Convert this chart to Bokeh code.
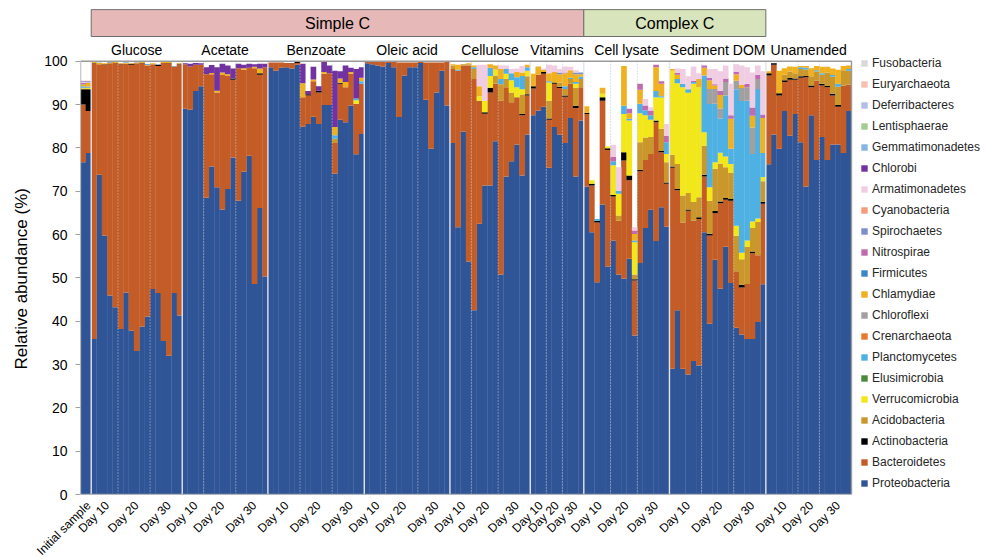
import math
from bokeh.plotting import figure
from bokeh.models import (ColumnDataSource, Range1d, FixedTicker, Legend, LegendItem,
                          LinearAxis, Title)
from bokeh.core.properties import value
from bokeh.embed import file_html
from bokeh.resources import INLINE

# ---------------- structure ----------------
groups = ["Initial", "Glucose", "Acetate", "Benzoate", "Oleic acid", "Cellulose",
          "Vitamins", "Cell lysate", "Sediment DOM", "Unamended"]
day_counts = {
    "Initial": [2],
    "Glucose": [5, 6, 6],
    "Acetate": [4, 6, 6],
    "Benzoate": [6, 6, 6],
    "Oleic acid": [4, 6, 6],
    "Cellulose": [4, 5, 6],
    "Vitamins": [3, 3, 4],
    "Cell lysate": [5, 5, 6],
    "Sediment DOM": [6, 6, 6],
    "Unamended": [6, 4, 6],
}
initial_label = "Initial sample"
day_labels = ["Day 10", "Day 20", "Day 30"]
carbon_classes = [("Simple C", "Glucose", "Vitamins", "#E6B8B8"),
                  ("Complex C", "Cell lysate", "Sediment DOM", "#D8E4BC")]

phyla = ["Proteobacteria", "Bacteroidetes", "Actinobacteria", "Acidobacteria",
         "Verrucomicrobia", "Elusimicrobia", "Planctomycetes", "Crenarchaeota",
         "Chloroflexi", "Chlamydiae", "Firmicutes", "Nitrospirae", "Spirochaetes",
         "Cyanobacteria", "Armatimonadetes", "Chlorobi", "Gemmatimonadetes",
         "Lentisphaerae", "Deferribacteres", "Euryarchaeota", "Fusobacteria"]
colors = ["#2F5597", "#C35C26", "#000000", "#C9972C", "#F2E71B", "#4A8A3A",
          "#4FB0E3", "#E87A2E", "#A0A0A0", "#F0B121", "#3A86C8", "#C06AB0",
          "#7C8FCB", "#F59B7A", "#F1CDE3", "#7232A0", "#85B5E0", "#A3CC91",
          "#B4BEE4", "#F7C0B0", "#D9D9D9"]

# ---------------- data (relative abundance, % per sample) ----------------
proteobacteria = {
    "Initial": [76.7, 78.8],
    "Glucose": [35.9, 73.8, 59.8, 45.9, 43.2, 38.2, 46.6, 37.8, 33.1, 38.8, 41.1, 47.4, 46.5, 35.4, 32.0, 46.5, 41.3],
    "Acetate": [89.0, 88.8, 93.1, 94.2, 68.5, 75.7, 70.9, 65.8, 70.5, 77.8, 67.8, 74.5, 78.2, 48.6, 66.1, 50.3],
    "Benzoate": [98.6, 97.8, 98.5, 98.6, 98.3, 99.2, 84.9, 85.5, 87.2, 85.5, 89.9, 89.9, 74.0, 86.5, 85.9, 89.8, 78.5, 83.2],
    "Oleic acid": [99.5, 99.3, 99.0, 98.8, 99.6, 98.6, 87.1, 96.7, 98.6, 98.6, 99.6, 91.1, 79.8, 92.8, 97.8, 89.8],
    "Cellulose": [81.1, 61.7, 83.8, 53.8, 42.5, 62.5, 71.3, 71.3, 81.5, 50.8, 73.4, 76.9, 80.8, 73.6, 83.1],
    "Vitamins": [87.5, 88.6, 89.5, 75.4, 84.8, 83.0, 81.1, 86.9, 73.4, 86.3],
    "Cell lysate": [71.1, 60.5, 49.0, 66.9, 52.6, 58.6, 50.8, 49.8, 54.4, 36.7, 53.4, 61.5, 65.7, 58.5, 66.3, 61.8],
    "Sediment DOM": [29.0, 42.5, 29.0, 27.7, 30.8, 29.8, 60.5, 39.4, 54.2, 47.5, 57.2, 48.8, 38.5, 36.9, 35.9, 35.9, 39.8, 48.5],
    "Unamended": [76.2, 83.1, 79.8, 88.5, 82.8, 87.8, 81.3, 71.1, 87.5, 77.2, 82.5, 77.2, 80.8, 80.8, 78.8, 88.5],
}
bacteroidetes = {
    "Initial": [13.3, 9.7],
    "Glucose": [63.6, 25.5, 39.4, 53.6, 56.4, 61.1, 52.8, 61.4, 66.4, 60.7, 57.9, 51.9, 52.4, 64.2, 67.5, 52.2, 58.0],
    "Acetate": [10.3, 10.0, 6.1, 5.0, 28.5, 21.3, 21.9, 31.0, 26.1, 17.9, 30.6, 23.5, 20.3, 49.8, 30.8, 48.3],
    "Benzoate": [1.1, 1.9, 1.2, 1.0, 1.2, 0.4, 6.8, 6.6, 8.2, 7.3, 7.2, 7.3, 7.1, 8.3, 8.1, 7.3, 11.7, 11.6],
    "Oleic acid": [0.3, 0.5, 0.8, 1.0, 0.2, 1.2, 12.6, 3.0, 1.1, 1.1, 0.2, 8.6, 19.9, 6.9, 1.9, 10.0],
    "Cellulose": [17.1, 36.1, 15.2, 45.2, 53.4, 28.4, 16.6, 21.5, 13.3, 40.1, 20.6, 13.6, 10.9, 13.9, 9.0],
    "Vitamins": [6.2, 8.3, 7.6, 11.1, 10.0, 10.8, 10.7, 7.9, 15.8, 7.7],
    "Cell lysate": [16.7, 10.8, 13.8, 24.0, 26.9, 10.2, 12.4, 27.3, 18.1, 12.7, 21.2, 15.7, 12.9, 27.4, 12.7, 9.9],
    "Sediment DOM": [46.4, 27.7, 33.8, 37.8, 32.4, 33.8, 12.9, 20.4, 10.7, 19.7, 10.8, 19.0, 13.0, 10.9, 12.7, 19.8, 15.4, 18.6],
    "Unamended": [20.5, 16.1, 12.3, 6.7, 12.9, 7.9, 14.9, 25.2, 6.5, 18.3, 11.9, 16.8, 11.3, 8.7, 15.6, 6.1],
}
actinobacteria = {
    "Initial": [3.5, 5.0],
    "Glucose": [0.1, 0.0, 0.1, 0.0, 0.0, 0.1, 0.0, 0.2, 0.0, 0.1, 0.0, 0.0, 0.2, 0.0, 0.1, 0.0, 0.1],
    "Acetate": [0.0, 0.0, 0.0, 0.0, 0.0, 0.0, 0.0, 0.0, 0.0, 0.3, 0.0, 0.0, 0.0, 0.0, 0.3, 0.0],
    "Benzoate": [0.0, 0.0, 0.0, 0.0, 0.1, 0.2, 0.0, 0.3, 0.0, 0.4, 0.0, 0.0, 0.0, 0.2, 0.0, 0.0, 0.0, 0.0],
    "Cellulose": [0.0, 0.0, 0.0, 0.0, 0.0, 0.0, 0.3, 1.1, 0.0, 0.0, 0.0, 0.0, 0.0, 0.3, 0.3],
    "Vitamins": [0.5, 0.0, 0.4, 0.3, 0.3, 0.3, 0.3, 0.0, 0.5, 0.0],
    "Cell lysate": [0.3, 0.4, 0.4, 0.8, 0.4, 0.3, 0.0, 1.9, 1.1, 0.3, 0.3, 0.0, 0.0, 0.4, 0.3, 0.3],
    "Sediment DOM": [0.3, 0.3, 0.0, 0.3, 0.0, 0.4, 0.4, 0.4, 0.5, 0.4, 0.4, 0.4, 0.0, 0.6, 0.0, 0.4, 0.0, 0.4],
    "Unamended": [0.5, 0.3, 0.5, 0.4, 0.4, 0.3, 0.3, 0.3, 0.4, 0.0, 0.4, 0.3, 0.4, 0.4, 0.0, 0.0],
}
acidobacteria = {
    "Initial": [0.2, 0.1],
    "Benzoate": [0.0, 0.0, 0.0, 0.0, 0.0, 0.0, 0.0, 0.0, 0.0, 0.0, 0.0, 0.0, 1.0, 0.0, 0.0, 0.0, 0.0, 0.0],
    "Cellulose": [0.8, 0.0, 0.3, 0.3, 2.3, 0.0, 0.0, 0.0, 1.9, 3.8, 1.9, 2.3, 0.0, 4.5, 4.1],
    "Vitamins": [0.0, 0.0, 0.0, 4.1, 0.0, 1.0, 1.5, 1.1, 4.2, 1.9],
    "Cell lysate": [0.0, 0.0, 0.0, 0.0, 0.0, 0.0, 1.2, 0.0, 0.0, 1.1, 6.4, 5.2, 3.9, 0.0, 5.1, 4.7],
    "Sediment DOM": [2.7, 5.8, 6.2, 3.8, 4.3, 4.6, 6.7, 7.6, 9.8, 8.8, 7.1, 6.0, 8.2, 5.9, 8.5, 5.4, 7.7, 4.8],
    "Unamended": [0.0, 0.0, 0.0, 1.3, 1.5, 1.2, 1.7, 1.5, 2.1, 2.1, 2.1, 3.1, 3.9, 4.2, 3.5, 3.2],
}
verrucomicrobia = {
    "Initial": [0.1, 0.2],
    "Benzoate": [0.0, 0.0, 0.0, 0.0, 0.0, 0.0, 0.0, 0.0, 0.0, 0.0, 0.0, 0.0, 0.0, 0.0, 0.0, 0.0, 0.8, 0.0],
    "Cellulose": [0.0, 0.0, 0.0, 0.0, 0.0, 1.0, 2.6, 2.7, 1.3, 0.0, 1.2, 2.8, 2.3, 1.2, 1.3],
    "Vitamins": [0.0, 0.0, 0.0, 4.2, 0.0, 0.0, 0.0, 0.0, 0.9, 0.0],
    "Cell lysate": [0.0, 0.8, 0.0, 0.8, 0.4, 6.9, 5.0, 8.8, 12.7, 7.4, 6.7, 5.1, 4.0, 5.4, 7.2, 1.9],
    "Sediment DOM": [19.4, 18.6, 25.0, 23.1, 27.3, 25.4, 3.1, 3.1, 1.5, 2.5, 2.5, 2.1, 2.3, 1.5, 1.5, 1.5, 0.8, 1.0],
}
elusimicrobia = {"Initial": [0.05, 0.0]}
planctomycetes = {
    "Initial": [0.3, 0.2],
    "Benzoate": [0.0, 0.0, 0.0, 0.0, 0.0, 0.0, 0.0, 0.0, 0.0, 0.0, 0.0, 0.0, 0.8, 0.0, 0.0, 0.0, 0.4, 0.6],
    "Cellulose": [0.0, 0.2, 0.0, 0.0, 0.4, 0.0, 0.0, 1.9, 0.0, 1.2, 1.1, 1.6, 2.3, 3.1, 0.8],
    "Vitamins": [0.0, 0.0, 0.0, 0.3, 0.0, 0.0, 0.6, 0.3, 0.4, 0.5],
    "Cell lysate": [0.0, 0.0, 0.4, 0.0, 0.0, 0.9, 0.7, 1.9, 0.4, 0.4, 2.2, 1.1, 1.0, 1.4, 0.3, 2.7],
    "Sediment DOM": [0.0, 1.0, 0.8, 0.8, 0.4, 0.0, 13.1, 19.2, 13.5, 7.9, 14.1, 3.5, 31.5, 35.0, 32.3, 15.6, 29.9, 5.5],
    "Unamended": [0.0, 0.0, 0.0, 0.0, 0.0, 0.0, 0.4, 0.4, 0.0, 0.3, 0.3, 0.0, 0.4, 0.7, 0.0, 0.4],
}
crenarchaeota = {"Initial": [0.05, 0.05]}
chloroflexi = {
    "Initial": [0.1, 0.1],
    "Sediment DOM": [0.0, 0.0, 0.0, 0.0, 0.0, 0.0, 0.0, 3.5, 3.4, 2.3, 3.1, 0.0, 2.0, 3.0, 3.1, 6.1, 2.3, 0.0],
}
chlamydiae = {
    "Initial": [0.4, 0.8],
    "Glucose": [0.2, 0.3, 0.2, 0.2, 0.2, 0.1, 0.2, 0.1, 0.2, 0.2, 0.1, 0.2, 0.1, 0.2, 0.2, 0.1, 0.2],
    "Acetate": [0.0, 0.0, 0.0, 0.0, 0.0, 0.3, 0.4, 0.6, 0.4, 0.0, 0.0, 0.4, 0.0, 0.3, 1.1, 0.0],
    "Benzoate": [0.0, 0.0, 0.0, 0.0, 0.0, 0.0, 3.2, 0.0, 0.4, 0.0, 0.4, 0.0, 1.9, 1.0, 1.2, 0.4, 0.0, 0.8],
    "Cellulose": [0.3, 1.2, 0.0, 0.2, 0.4, 2.3, 0.0, 0.8, 1.0, 2.3, 0.0, 0.0, 1.2, 0.8, 0.6],
    "Vitamins": [2.9, 1.9, 0.5, 1.8, 2.4, 1.9, 3.0, 1.7, 1.8, 0.6],
    "Cell lysate": [1.5, 0.0, 0.0, 1.4, 0.0, 0.0, 0.0, 9.2, 1.3, 1.5, 3.2, 0.0, 0.0, 5.5, 2.9, 0.0],
    "Sediment DOM": [0.4, 1.0, 0.0, 0.0, 0.0, 1.9, 1.8, 2.0, 0.8, 3.1, 0.0, 6.9, 1.5, 0.7, 0.0, 2.7, 0.0, 8.1],
    "Unamended": [0.5, 0.0, 5.2, 1.5, 1.2, 1.5, 0.3, 0.4, 1.9, 1.0, 1.5, 1.3, 1.5, 3.2, 1.0, 0.8],
}
firmicutes = {
    "Initial": [0.05, 0.05],
    "Glucose": [0.1, 0.0, 0.0, 0.1, 0.0, 0.0, 0.1, 0.0, 0.0, 0.0, 0.2, 0.0, 0.1, 0.0, 0.0, 0.1, 0.0],
}
nitrospirae = {
    "Initial": [0.2, 0.1],
    "Vitamins": [0.0, 0.0, 0.0, 0.0, 0.0, 0.0, 0.2, 0.0, 0.0, 0.0],
    "Cell lysate": [0.0, 0.0, 0.0, 0.0, 0.0, 1.0, 0.0, 0.0, 1.0, 0.8, 1.4, 1.2, 1.1, 0.6, 0.6, 1.5],
    "Sediment DOM": [0.0, 0.4, 0.0, 0.0, 0.3, 0.0, 0.5, 0.6, 0.3, 1.0, 0.8, 0.8, 0.5, 0.0, 0.8, 1.9, 1.0, 0.8],
}
spirochaetes = {
    "Initial": [0.05, 0.05],
    "Vitamins": [0.0, 0.0, 0.0, 0.0, 0.0, 0.4, 0.0, 0.0, 0.4, 0.4],
}
cyanobacteria = {"Initial": [0.05, 0.0]}
armatimonadetes = {
    "Initial": [0.2, 0.1],
    "Cellulose": [0.0, 0.0, 0.0, 0.0, 0.0, 5.0, 8.4, 0.0, 0.0, 0.8, 0.8, 1.0, 0.8, 1.5, 0.0],
    "Vitamins": [0.0, 0.0, 0.3, 2.0, 1.5, 0.8, 1.4, 0.8, 0.5, 0.0],
    "Cell lysate": [0.0, 0.0, 0.0, 0.0, 0.0, 2.8, 5.4, 0.0, 0.0, 0.8, 0.0, 1.5, 0.8, 0.0, 0.0, 2.7],
    "Sediment DOM": [0.0, 1.0, 3.4, 3.0, 3.3, 1.3, 0.0, 2.0, 3.5, 4.5, 3.0, 7.3, 1.8, 4.5, 3.8, 8.1, 2.1, 10.0],
}
chlorobi = {
    "Initial": [0.1, 0.1],
    "Acetate": [0.2, 0.6, 0.4, 0.3, 1.6, 1.8, 5.4, 2.0, 2.0, 2.3, 1.0, 0.8, 0.9, 0.6, 1.1, 0.8],
    "Benzoate": [0.0, 0.0, 0.0, 0.0, 0.0, 0.0, 4.5, 0.7, 2.9, 1.0, 2.3, 1.8, 13.0, 1.7, 3.8, 1.0, 6.8, 2.4],
}
gemmatimonadetes = {
    "Initial": [0.05, 0.05],
    "Glucose": [0.0, 0.1, 0.0, 0.0, 0.0, 0.0, 0.0, 0.0, 0.1, 0.0, 0.0, 0.0, 0.0, 0.0, 0.0, 0.0, 0.0],
}
lentisphaerae = {"Initial": [0.0, 0.05]}
deferribacteres = {"Initial": [0.05, 0.0]}
euryarchaeota = {"Initial": [0.05, 0.05]}
fusobacteria = {"Initial": [0.05, 0.05]}

phylum_data = [proteobacteria, bacteroidetes, actinobacteria, acidobacteria,
               verrucomicrobia, elusimicrobia, planctomycetes, crenarchaeota,
               chloroflexi, chlamydiae, firmicutes, nitrospirae, spirochaetes,
               cyanobacteria, armatimonadetes, chlorobi, gemmatimonadetes,
               lentisphaerae, deferribacteres, euryarchaeota, fusobacteria]

# ---------------- build table ----------------
sizes = {g: sum(day_counts[g]) for g in groups}
n_bars = sum(sizes.values())


def series(d):
    out = []
    for g in groups:
        n = sizes[g]
        vals = [float(v) for v in d.get(g, [])][:n]
        vals += [0.0] * (n - len(vals))
        out += vals
    return out


table = {"x": [i + 0.5 for i in range(n_bars)]}
for name, d in zip(phyla, phylum_data):
    table[name] = series(d)
src = ColumnDataSource(table)

group_start = {}
pos = 0
tick_x, tick_text, day_bounds = [], [], []
for g in groups:
    group_start[g] = pos
    cum = pos
    for k, c in enumerate(day_counts[g]):
        tick_x.append(cum + c / 2.0)
        tick_text.append(initial_label if g == "Initial" else day_labels[k])
        cum += c
        if k < len(day_counts[g]) - 1:
            day_bounds.append(cum)
    pos += sizes[g]
group_end = {g: group_start[g] + sizes[g] for g in groups}
treat_bounds = [group_start[g] for g in groups[1:]]

# ---------------- figure ----------------
PX_Y = 4.333          # pixels per percent
FRAME_H = 494
FRAME_W = 904
LEFT = 80
BAR_PX = 771.0 / n_bars
y_end = FRAME_H / PX_Y
x_end = FRAME_W / BAR_PX

p = figure(frame_width=FRAME_W, frame_height=FRAME_H, output_backend="svg", toolbar_location=None,
           x_range=Range1d(0, x_end), y_range=Range1d(0, y_end),
           x_axis_location=None, y_axis_location="left",
           min_border_left=LEFT, min_border_right=0, min_border_top=0, min_border_bottom=0)
p.outline_line_color = None
p.grid.visible = False
p.background_fill_color = "white"

ax = p.yaxis[0]
ax.ticker = FixedTicker(ticks=list(range(0, 101, 10)))
ax.axis_line_color = None
ax.major_tick_line_color = "#A0A0A0"
ax.major_tick_out = 5
ax.major_tick_in = 0
ax.minor_tick_line_color = None
ax.major_label_text_font = "Liberation Sans"
ax.major_label_text_font_size = "14px"
ax.major_label_text_color = "#000000"
ax.major_label_standoff = 8

# y-axis title placed along the 0-100 span
p.add_layout(Title(text="Relative abundance (%)", align="left", offset=125, standoff=20,
                   vertical_align="middle", text_font="Liberation Sans", text_font_size="17px",
                   text_font_style="normal", text_color="#000000"), "left")

# x axis with rotated day labels
lab_pos = [t + 0.5 for t in tick_x]
xaxis = LinearAxis(ticker=FixedTicker(ticks=lab_pos),
                   major_label_overrides={v: t for v, t in zip(lab_pos, tick_text)},
                   major_label_orientation=math.pi / 4,
                   major_tick_line_color=None, minor_tick_line_color=None,
                   axis_line_color=None, major_label_standoff=3,
                   major_label_text_font="Liberation Sans", major_label_text_font_size="12px",
                   major_label_text_color="#000000")
p.add_layout(xaxis, "below")

renderers = p.vbar_stack(phyla, x="x", width=1.06, source=src,
                         fill_color=colors, line_color=None)

# separators
p.segment(x0=treat_bounds, y0=[0] * len(treat_bounds), x1=treat_bounds, y1=[100] * len(treat_bounds),
          line_color="#E4E4EC", line_width=1.4)
p.segment(x0=day_bounds, y0=[0] * len(day_bounds), x1=day_bounds, y1=[100] * len(day_bounds),
          line_color="#C4C4CC", line_width=1, line_dash="1 2")

# plot border / axis lines
p.quad(left=[0], right=[n_bars], bottom=[0], top=[100], fill_color=None,
       line_color="#9A9A9A", line_width=1.4)

# carbon-class header bands
for name, g0, g1, col in carbon_classes:
    l, r = group_start[g0], group_end[g1]
    p.quad(left=[l], right=[r], bottom=[105.7], top=[111.9], fill_color=col,
           line_color="#6E6E6E", line_width=1)
    p.text(x=[(l + r) / 2], y=[108.8], text=[name], text_align="center", text_baseline="middle",
           text_font=value("Liberation Sans"), text_font_size="16px", text_color="#000000")

# treatment labels
tg = groups[1:]
p.text(x=[(group_start[g] + group_end[g]) / 2 for g in tg], y=[102.7] * len(tg), text=tg,
       text_align="center", text_baseline="middle", text_font=value("Liberation Sans"),
       text_font_size="14px", text_color="#000000")

# legend
items = [LegendItem(label=name, renderers=[r]) for name, r in reversed(list(zip(phyla, renderers)))]
legend = Legend(items=items, location=(780, 4), glyph_width=8, glyph_height=8,
                label_height=8, spacing=7, label_standoff=4, padding=0, margin=0,
                border_line_color=None, background_fill_alpha=0,
                label_text_font="Liberation Sans", label_text_font_size="12px",
                label_text_color="#262626")
p.add_layout(legend)

open("out.html", "w").write(file_html(p, INLINE, title="Relative abundance"))
